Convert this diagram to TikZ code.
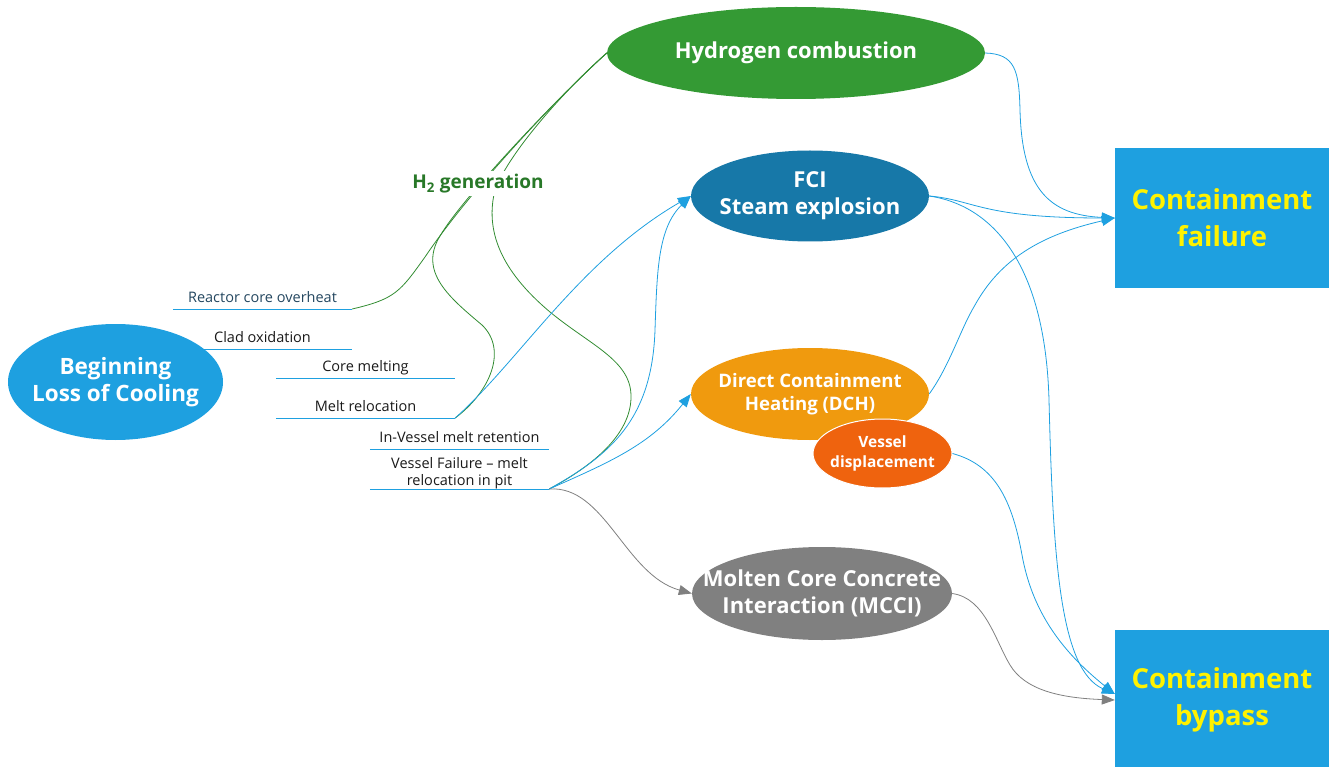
\documentclass[tikz,border=0pt]{standalone}
\usepackage{fontspec}
\setmainfont{Open Sans}
\usetikzlibrary{shapes.geometric,arrows.meta}

\definecolor{skyblue}{RGB}{30,160,224}
\definecolor{h2green}{RGB}{52,154,52}
\definecolor{h2text}{RGB}{40,120,40}
\definecolor{h2line}{RGB}{50,140,50}
\definecolor{fciblue}{RGB}{23,120,168}
\definecolor{dchorange}{RGB}{240,154,14}
\definecolor{vdorange}{RGB}{239,99,14}
\definecolor{mccigray}{RGB}{128,128,128}
\definecolor{labelink}{RGB}{35,70,95}
\definecolor{steptext}{RGB}{25,25,25}

\begin{document}
\begin{tikzpicture}[x=1pt, y=-1pt,
  phase/.style={ellipse, inner xsep=-30pt, inner ysep=0pt, text=white, align=center},
  outcome/.style={rectangle, fill=skyblue, minimum width=214pt, minimum height=140pt, text=yellow, align=center, font=\fontsize{27.5}{37}\selectfont\bfseries},
  stage/.style={minimum width=179pt, minimum height=20pt, inner sep=0pt, text height=10pt, text depth=3pt, text=steptext, font=\fontsize{14.5}{17}\selectfont},
  uline/.style={skyblue, line width=0.9pt},
  flow/.style={skyblue, line width=0.8pt, -{Triangle[length=13pt,width=10pt]}},
  h2flow/.style={h2line, line width=0.8pt},
  mcciflow/.style={mccigray, line width=0.8pt, -{Triangle[length=13pt,width=10pt]}},
]
\useasboundingbox (0,0) rectangle (1330,767);

% 事象の段階(座標で配置)
\node[stage, text=labelink, anchor=south] (rco)    at (262.5,309) {Reactor core overheat};
\node[stage, anchor=south]                (clad)   at (262.5,349) {Clad oxidation};
\node[stage, anchor=south]                (cmelt)  at (365.5,378) {Core melting};
\node[stage, anchor=south]                (mreloc) at (365.5,418) {Melt relocation};
\node[stage, anchor=south]                (ivr)    at (459.5,449) {In-Vessel melt retention};
\node[minimum width=179pt, minimum height=30pt, inner sep=0pt, align=center, text=steptext,
      font=\fontsize{14.5}{16.5}\selectfont, anchor=south] (vfail) at (459.5,489) {Vessel Failure – melt\\relocation in pit};
\foreach \s in {rco,clad,cmelt,mreloc,ivr,vfail}
  \draw[uline] (\s.south west) -- (\s.south east);

% 楕円ノード
\node[phase, fill=skyblue, minimum width=215pt, minimum height=116pt, font=\fontsize{22.5}{27}\selectfont\bfseries] (onset) at (115.5,382) {Beginning\\Loss of Cooling};
\node[phase, fill=h2green, minimum width=378pt, minimum height=92pt, font=\fontsize{22}{27}\selectfont\bfseries] (hyd) at (796,53) {Hydrogen combustion};
\node[phase, fill=fciblue, minimum width=238pt, minimum height=91pt, font=\fontsize{22}{27}\selectfont\bfseries] (fci) at (810,196) {FCI\\Steam explosion};
\node[phase, fill=dchorange, minimum width=238pt, minimum height=92pt, font=\fontsize{18.6}{23.5}\selectfont\bfseries] (dch) at (810,394) {Direct Containment\\Heating (DCH)};
\node[phase, fill=vdorange, draw=white, line width=1pt, minimum width=139pt, minimum height=69pt, font=\fontsize{15.5}{20}\selectfont\bfseries] (vdisp) at (882.5,453.5) {Vessel\\displacement};
\node[phase, fill=mccigray, minimum width=260pt, minimum height=93pt, font=\fontsize{22}{27}\selectfont\bfseries] (mcci) at (822,593.5) {Molten Core Concrete\\Interaction (MCCI)};

% 結果
\node[outcome] (cfail) at (1222,218) {Containment\\failure};
\node[outcome] (cbyp)  at (1222,700) {Containment\\bypass};

% 水素発生
\draw[h2flow] (rco.south east) .. controls (395,299) and (400,292) .. (425,257)
  .. controls (470,190) and (560,95) .. (hyd.west);
\draw[h2flow] (mreloc.south east) .. controls (490,392) and (508,350) .. (482,325)
  .. controls (450,298) and (418,272) .. (440,236)
  .. controls (462,198) and (560,95) .. (hyd.west);
\draw[h2flow] (vfail.south east) .. controls (600,462) and (632,430) .. (631,395)
  .. controls (630,360) and (590,345) .. (550,312)
  .. controls (500,270) and (485,230) .. (495,190)
  .. controls (510,150) and (570,85) .. (hyd.west);

% 矢印
\draw[flow] (mreloc.south east) .. controls (520,360) and (580,260) .. (fci.west);
\draw[flow] (vfail.south east) .. controls (610,455) and (652,420) .. (655,330)
  .. controls (657,270) and (658,228) .. (fci.west);
\draw[flow] (vfail.south east) .. controls (610,462) and (650,445) .. (dch.west);
\draw[mcciflow] (vfail.south east) .. controls (605,485) and (625,575) .. (mcci.west);

\draw[flow] (hyd.east) .. controls (1015,54) and (1019,70) .. (1020,110)
  .. controls (1022,190) and (1050,215) .. (cfail.west);
\draw[flow] (fci.east) .. controls (975,200) and (980,218) .. (cfail.west);
\draw[flow] (dch.east) .. controls (950,365) and (960,330) .. (975,305)
  .. controls (1000,260) and (1040,235) .. (cfail.west);
\draw[flow] (fci.east) .. controls (990,205) and (1045,260) .. (1049,400)
  .. controls (1053,560) and (1060,670) .. ([yshift=6pt]cbyp.west);
\draw[flow] (vdisp.east) .. controls (995,465) and (1012,500) .. (1022,555)
  .. controls (1032,610) and (1060,650) .. ([yshift=6pt]cbyp.west);
\draw[mcciflow] (mcci.east) .. controls (985,598) and (995,640) .. (1010,665)
  .. controls (1025,690) and (1060,698) .. (cbyp.west);

% 注記
\node[fill=white, inner sep=3pt, text=h2text, font=\fontsize{19}{22}\selectfont\bfseries] (h2) at (478,184) {H\textsubscript{2} generation};
\end{tikzpicture}
\end{document}
